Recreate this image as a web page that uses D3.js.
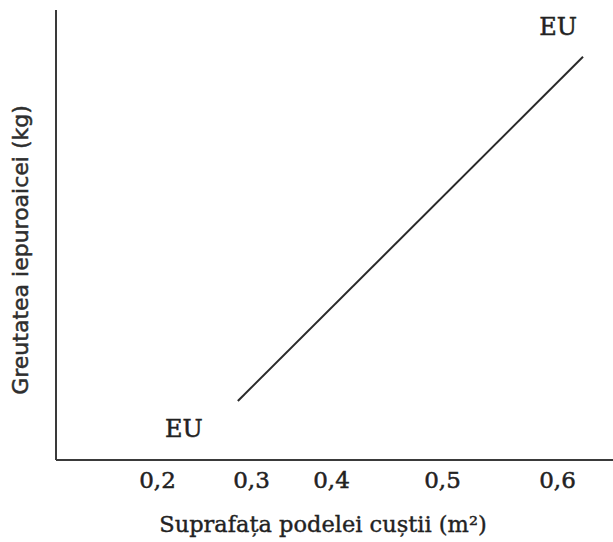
<!DOCTYPE html>
<html>
<head>
<meta charset="utf-8">
<script src="https://cdn.jsdelivr.net/npm/d3@7"></script>
<style>
  html, body { margin: 0; padding: 0; background: #fff; }
  svg { display: block; }
</style>
</head>
<body>
<div id="chart"></div>
<script>
// ---- data ----
const xTickValues = [0.2, 0.3, 0.4, 0.5, 0.6];
const xTickLabels = ["0,2", "0,3", "0,4", "0,5", "0,6"];
const lineX = [0.286, 0.6226];         // floor area (m²)
const lineY = [1.31, 8.96];            // rabbit weight (relative units, no ticks shown)
const pointLabels = ["EU", "EU"];
const xTitle = "Suprafața podelei cuștii (m²)";
const yTitle = "Greutatea iepuroaicei (kg)";

// ---- layout ----
const W = 613, H = 542;
const margin = { left: 56, right: 0, top: 10, bottom: 82 };
const innerW = W - margin.left - margin.right;
const innerH = H - margin.top - margin.bottom;
// the printed axis has uneven tick spacing: fraction of plot width for each tick
const tickFractions = [0.1813, 0.3501, 0.4937, 0.693, 0.8995];
const serif = "'DejaVu Serif', 'Liberation Serif', serif";
const ink = "#222";

const svg = d3.select("#chart").append("svg")
  .attr("width", W).attr("height", H);

const g = svg.append("g").attr("transform", `translate(${margin.left},${margin.top})`);

const x = d3.scaleLinear()
  .domain(xTickValues)
  .range(tickFractions.map(f => f * innerW));
const y = d3.scaleLinear().domain([0, 10]).range([innerH, 0]);

// x axis
const xAxis = d3.axisBottom(x)
  .tickValues(xTickValues)
  .tickFormat((d, i) => xTickLabels[i])
  .tickSize(0)
  .tickPadding(12);
const xg = g.append("g").attr("transform", `translate(0,${innerH})`).call(xAxis);
xg.select(".domain").attr("d", `M0,0H${innerW}`).attr("stroke", "#3a3a3a").attr("stroke-width", 2);
xg.selectAll("text")
  .attr("font-family", serif)
  .attr("font-size", 23).attr("fill", ink)
  .attr("stroke", ink).attr("stroke-width", 0.5);

// y axis (no ticks)
const yAxis = d3.axisLeft(y).tickValues([]).tickSize(0);
const yg = g.append("g").call(yAxis);
yg.select(".domain").attr("d", `M0,0V${innerH}`).attr("stroke", "#3a3a3a").attr("stroke-width", 2);

// line
const line = d3.line().x(d => x(d[0])).y(d => y(d[1]));
g.append("path")
  .datum(lineX.map((v, i) => [v, lineY[i]]))
  .attr("d", line)
  .attr("fill", "none")
  .attr("stroke", "#2a2a2a")
  .attr("stroke-width", 2);

// EU labels
const labelOffsets = [[-54, 36], [-25, -22]];
g.selectAll(".eu").data(pointLabels).join("text")
  .attr("class", "eu")
  .attr("x", (d, i) => x(lineX[i]) + labelOffsets[i][0])
  .attr("y", (d, i) => y(lineY[i]) + labelOffsets[i][1])
  .attr("text-anchor", "middle")
  .attr("font-family", serif)
  .attr("font-size", 24).attr("fill", ink)
  .attr("stroke", ink).attr("stroke-width", 0.5)
  .text(d => d);

// axis titles
svg.append("text")
  .attr("x", 323).attr("y", 532)
  .attr("text-anchor", "middle")
  .attr("font-family", serif)
  .attr("font-size", 22.5).attr("fill", ink)
  .attr("stroke", ink).attr("stroke-width", 0.4)
  .text(xTitle);

svg.append("text")
  .attr("transform", `translate(28,250) rotate(-90)`)
  .attr("text-anchor", "middle")
  .attr("font-family", "'DejaVu Sans', 'Liberation Sans', sans-serif")
  .attr("font-size", 22).attr("fill", "#2e2e2e")
  .attr("stroke", "#2e2e2e").attr("stroke-width", 0.5)
  .text(yTitle);
</script>
</body>
</html>
